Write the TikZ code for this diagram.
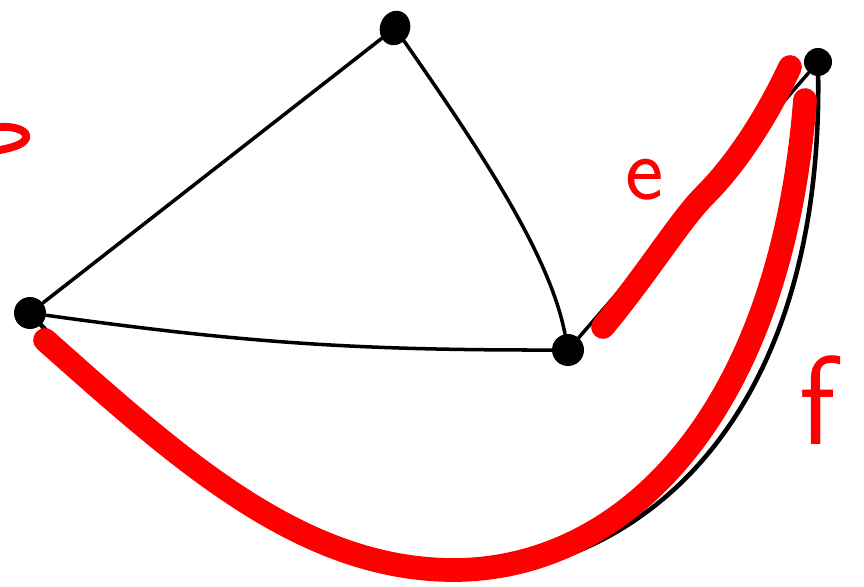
\documentclass[tikz,border=0pt]{standalone}
\usepackage{tikz}
\usetikzlibrary{arrows.meta, shapes.geometric, positioning, calc}
\usepackage{xcolor}

\begin{document}
\begin{tikzpicture}[x=0.02cm, y=-0.02cm,
    vertex/.style={circle, fill=black, inner sep=0pt, minimum size=0.64cm},
    edge/.style={black, line width=2pt, line cap=round},
    hilite/.style={red, line width=13.5pt, line cap=round},
    lbl/.style={red, font=\sffamily\fontsize{52}{52}\selectfont}]
\useasboundingbox (0,0) rectangle (864,587);
\node[vertex] (a) at (30,313) {};
\node[vertex, ellipse, minimum width=0.6cm, minimum height=0.7cm, rotate=-20] (b) at (395,28) {};
\node[vertex] (c) at (568,350) {};
\node[vertex, minimum size=0.56cm] (d) at (818,62) {};
\coordinate (e1) at (603,327);
\coordinate (e2) at (790,67);
\coordinate (f1) at (45,340);
\coordinate (f2) at (805,100);
% graph edges
\draw[edge] (a) -- (b);
\draw[edge] (b) .. controls (480,150) and (550,255) .. (c);
\draw[edge] (a) to[bend right=4] (c);
\draw[edge] (c) -- (d);
\draw[edge, line width=2.6pt] (a) .. controls (170,465) and (300,575) .. (440,577)
    .. controls (640,580) and (822,420) .. (d);
% highlighted path
\draw[hilite] (e1) .. controls (650,270) and (680,220) .. (705,195)
    .. controls (740,160) and (770,110) .. (e2);
\draw[hilite] (f1) .. controls (180,460) and (300,568) .. (450,570)
    .. controls (620,572) and (780,420) .. (f2);
\draw[red, line width=4.5pt, line cap=round] (0,127) .. controls (18,126) and (28,132) .. (26,138)
    .. controls (24,145) and (10,148) .. (0,150);
\node[lbl] (le) at (645,180) {e};
\node[lbl, font=\sffamily\fontsize{72}{72}\selectfont] (lf) at (818,400) {f};
\end{tikzpicture}
\end{document}
